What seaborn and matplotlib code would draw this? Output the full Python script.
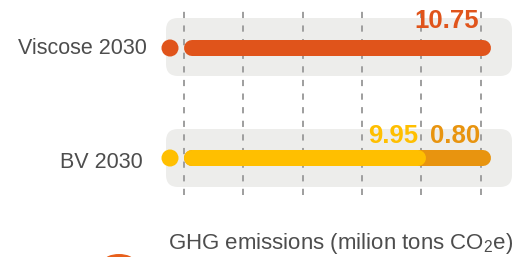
import numpy as np
import pandas as pd
import matplotlib
matplotlib.use("Agg")
import matplotlib.pyplot as plt
import seaborn as sns
from matplotlib.patches import FancyBboxPatch, Ellipse
from matplotlib.transforms import IdentityTransform

# ---- data ----
categories = ["Viscose 2030", "BV 2030"]
base_values = [10.75, 9.95]        # first segment
extra_values = [0.0, 0.80]         # second (stacked) segment
axis_start = 7.0                   # bars start here (non-zero axis)
value_labels_main = ["10.75", "9.95"]
value_labels_extra = ["", "0.80"]
xlabel = "GHG emissions (milion tons CO$_2$e)"

# ---- style ----
ORANGE = "#E0541B"
YELLOW = "#FFBF00"
DARK_ORANGE = "#E8940F"
GRAY_BOX = "#EDEDEB"
GRID = "#9E9E9E"
TEXT = "#4D4D4D"
main_colors = [ORANGE, YELLOW]
dot_colors = [ORANGE, YELLOW]

sns.set_theme(style="white")
plt.rcParams["font.family"] = ["Liberation Sans", "DejaVu Sans"]
plt.rcParams["mathtext.fontset"] = "custom"
plt.rcParams["mathtext.rm"] = "Liberation Sans"
plt.rcParams["mathtext.it"] = "Liberation Sans"

W, H, DPI = 521, 257, 100
fig = plt.figure(figsize=(W / DPI, H / DPI), dpi=DPI)

# axes in pixel layout
ax_l, ax_r, ax_t, ax_b = 166, 512, 8, 195
ax = fig.add_axes([ax_l / W, (H - ax_b) / H, (ax_r - ax_l) / W, (ax_b - ax_t) / H])

k = 81.87  # px per data unit
ax.set_xlim(axis_start - (184 - ax_l) / k, axis_start + (ax_r - 184) / k)
cat_px = [48, 158]
py = (cat_px[1] - cat_px[0])  # px per category unit
ax.set_ylim(1 + (ax_b - cat_px[1]) / py, 0 - (cat_px[0] - ax_t) / py)

totals = [b + e for b, e in zip(base_values, extra_values)]
ypos = np.arange(len(categories))

# rounded gray backgrounds (display coords)
box_half = [(30, 28), (29, 29)]
for i, y in enumerate(ypos):
    _, yd = ax.transData.transform((axis_start, y))
    up, down = box_half[i]
    x0 = ax_l
    bx = FancyBboxPatch((x0 + 12, yd - down + 12), (ax_r - ax_l) - 24, up + down - 24,
                        boxstyle="round,pad=12", transform=IdentityTransform(),
                        facecolor=GRAY_BOX, edgecolor="none", zorder=0)
    ax.add_patch(bx)

# dashed gridlines
grid_step = 0.725
grid_x = axis_start + grid_step * np.arange(6)
ax.vlines(grid_x, *ax.get_ylim(), colors=GRID, linewidth=1.4,
          linestyles=(0, (3.2, 3.8)), zorder=1)

# bars with round caps (inset by cap radius so the ends sit on the data)
lw_px = 16
cap = (lw_px / 2) / k
lw_pt = lw_px * 72 / DPI
for i, y in enumerate(ypos):
    if extra_values[i] > 0:
        ax.hlines(y, axis_start + cap, totals[i] - cap, colors=DARK_ORANGE,
                  linewidth=lw_pt, capstyle="round", zorder=3)
    ax.hlines(y, axis_start + cap, base_values[i] - cap, colors=main_colors[i],
              linewidth=lw_pt, capstyle="round", zorder=4)

# dots
dot_df = pd.DataFrame({"x": [axis_start - 14 / k] * len(categories),
                       "y": ypos, "cat": categories})
sns.scatterplot(data=dot_df, x="x", y="y", hue="cat", palette=dot_colors,
                s=150, linewidth=0, legend=False, ax=ax, zorder=5, clip_on=False)

# value labels
lab_dy = [27, 22]
for i, y in enumerate(ypos):
    ax.annotate(value_labels_main[i], xy=(base_values[i], y),
                xytext=(-(12 if i == 0 else 7.5) * 0.72, lab_dy[i] * 0.72),
                textcoords="offset points", ha="right", va="center",
                fontsize=18.5, fontweight="bold", color=main_colors[i], zorder=6)
    if value_labels_extra[i]:
        ax.annotate(value_labels_extra[i], xy=(totals[i], y),
                    xytext=(-11 * 0.72, lab_dy[i] * 0.72),
                    textcoords="offset points", ha="right", va="center",
                    fontsize=18.5, fontweight="bold", color=DARK_ORANGE, zorder=6)

# category labels
cat_right_px = [147, 143]
cat_dy_px = [0, -4]
for i, y in enumerate(ypos):
    ax.annotate(categories[i], xy=(0, y), xycoords=("axes fraction", "data"),
                xytext=(-(ax_l - cat_right_px[i]) * 0.72, cat_dy_px[i] * 0.72),
                textcoords="offset points", ha="right", va="center",
                fontsize=15.5, color=TEXT, annotation_clip=False)

ax.set_xticks([])
ax.set_yticks([])
ax.set_xlabel("")
ax.set_ylabel("")
for s in ax.spines.values():
    s.set_visible(False)

# x axis title
ax.text(0.006, -(243.5 - ax_b) / (ax_b - ax_t), xlabel, transform=ax.transAxes,
        ha="left", va="center", fontsize=16, color=TEXT)

# partially visible legend marker at bottom
fig.add_artist(Ellipse((119, H - 261), 30, 14, transform=IdentityTransform(),
                       facecolor="#E8601C", edgecolor="none"))

fig.savefig("out.png", dpi=DPI)
